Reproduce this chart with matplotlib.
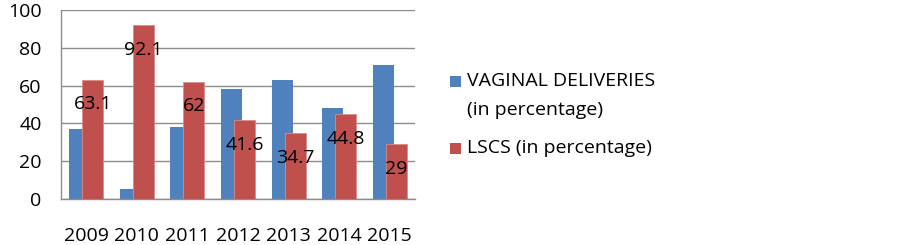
import numpy as np
import matplotlib
matplotlib.use('Agg')
from matplotlib import pyplot as plt
from matplotlib.patches import Rectangle

years = ['2009', '2010', '2011', '2012', '2013', '2014', '2015']
vaginal = [37, 5.3, 38, 58.4, 63, 48, 71]
lscs = [63.1, 92.1, 62, 41.6, 34.7, 44.8, 29]
lscs_labels = ['63.1', '92.1', '62', '41.6', '34.7', '44.8', '29']

blue = '#4F81BD'
red = '#C0504D'
grid_col = '#8C8C8C'

plt.rcParams['font.family'] = ['Open Sans', 'DejaVu Sans']
plt.rcParams['font.size'] = 14

fig = plt.figure(figsize=(9.03, 2.45), dpi=100)
ax = fig.add_axes([0.0676, 0.188, 0.392, 0.771])

x = np.arange(len(years))
w = 0.415
off = 0.128
ax.bar(x - off, vaginal, width=w, color=blue, zorder=2)
ax.bar(x + off, lscs, width=w, color=red, edgecolor='#D98C8A', linewidth=0.6, zorder=3)

for xi, v, lab in zip(x, lscs, lscs_labels):
    ax.annotate(lab, (xi + off, v), xytext=(0, -17.7), textcoords='offset points',
                ha='center', va='center', fontsize=14, color='black', zorder=4)

ax.set_xlim(-0.5, len(years) - 0.5)
ax.set_ylim(0, 100)
ax.set_yticks([0, 20, 40, 60, 80, 100])
ax.set_xticks(x)
ax.set_xticklabels(years)
ax.tick_params(axis='both', length=0, labelsize=14)
ax.tick_params(axis='y', pad=14)
ax.tick_params(axis='x', pad=20)
ax.yaxis.grid(True, color=grid_col, linewidth=1.0, zorder=0)
ax.set_axisbelow(True)
for s in ['top', 'right']:
    ax.spines[s].set_visible(False)
for s in ['left', 'bottom']:
    ax.spines[s].set_color(grid_col)
    ax.spines[s].set_linewidth(1.0)

# legend drawn in figure pixels
W, H = 903.0, 245.0
fig.add_artist(Rectangle((450 / W, 1 - 87 / H), 11 / W, 11 / H, transform=fig.transFigure,
                         facecolor=blue, edgecolor='none'))
fig.text(467 / W, 1 - 81 / H, 'VAGINAL DELIVERIES', va='center', ha='left', fontsize=14)
fig.text(467 / W, 1 - 110 / H, '(in percentage)', va='center', ha='left', fontsize=14)
fig.add_artist(Rectangle((450 / W, 1 - 154 / H), 11 / W, 11 / H, transform=fig.transFigure,
                         facecolor=red, edgecolor='none'))
fig.text(467 / W, 1 - 148 / H, 'LSCS (in percentage)', va='center', ha='left', fontsize=14)

fig.savefig('out.png', dpi=100)
plt.close(fig)
